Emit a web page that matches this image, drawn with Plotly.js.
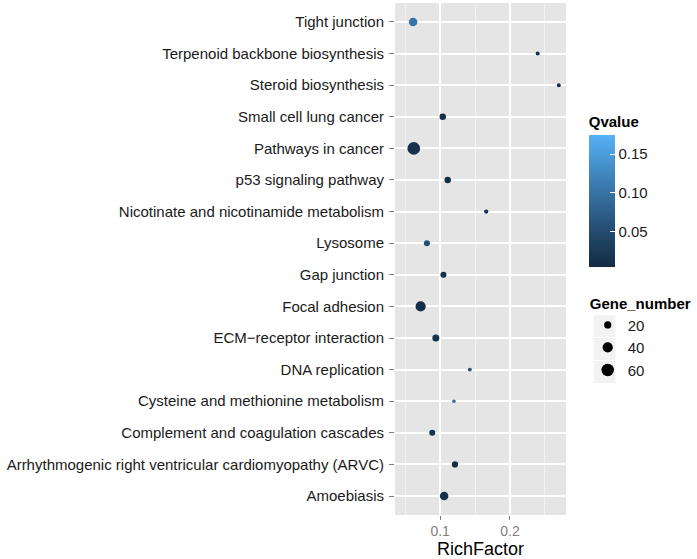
<!DOCTYPE html>
<html>
<head>
<meta charset="utf-8">
<script src="https://cdn.plot.ly/plotly-3.0.1.min.js"></script>
<style>
  html, body { margin: 0; padding: 0; background: #ffffff; }
  #chart { width: 697px; height: 559px; }
</style>
</head>
<body>
<div id="chart"></div>
<script>
// Pathways, listed bottom to top
const pathways = [
  "Amoebiasis",
  "Arrhythmogenic right ventricular cardiomyopathy (ARVC)",
  "Complement and coagulation cascades",
  "Cysteine and methionine metabolism",
  "DNA replication",
  "ECM\u2212receptor interaction",
  "Focal adhesion",
  "Gap junction",
  "Lysosome",
  "Nicotinate and nicotinamide metabolism",
  "p53 signaling pathway",
  "Pathways in cancer",
  "Small cell lung cancer",
  "Steroid biosynthesis",
  "Terpenoid backbone biosynthesis",
  "Tight junction"
];
const richFactor = [0.1057, 0.1212, 0.0887, 0.1198, 0.1425, 0.0938, 0.0720, 0.1047,
                    0.0810, 0.1660, 0.1108, 0.0622, 0.1037, 0.2700, 0.2397, 0.0612];
const qvalue     = [0.012, 0.010, 0.015, 0.095, 0.060, 0.014, 0.010, 0.012,
                    0.055, 0.020, 0.008, 0.012, 0.010, 0.008, 0.012, 0.100];
const geneNumber = [28, 15, 14, 5, 6, 19, 40, 14,
                    14, 7, 16, 62, 16, 6, 6, 28];
const sizeBreaks = [20, 40, 60];
const qTicks = [0.05, 0.10, 0.15];
const xTicks = [0.1, 0.2];
const xMinor = [0.05, 0.15, 0.25];

const SIZEREF = 0.384;   // diameter(px) = sqrt(gene / SIZEREF)
const FONT = "Liberation Sans, Arial, Helvetica, sans-serif";
const qScale = [
  [0.00, "#132B43"], [0.25, "#22496C"], [0.50, "#336A98"],
  [0.75, "#448DC6"], [1.00, "#56B1F7"]
];

const traces = [{
  type: "scatter", mode: "markers",
  x: richFactor, y: pathways,
  showlegend: false,
  marker: {
    size: geneNumber, sizemode: "area", sizeref: 2 * SIZEREF,
    opacity: 1,
    color: qvalue, colorscale: qScale, cmin: 0.004, cmax: 0.1745,
    showscale: true, line: { width: 0 },
    colorbar: {
      x: 1.133, xanchor: "left", xpad: 0,
      y: 0.484, yanchor: "bottom", ypad: 0,
      thickness: 26, len: 154, lenmode: "pixels",
      outlinewidth: 0,
      tickvals: qTicks, tickformat: ".2f",
      ticks: "inside", ticklen: 5, tickcolor: "#ffffff", tickwidth: 1,
      tickfont: { family: FONT, size: 15, color: "#1a1a1a" },
      title: { text: "<b>Qvalue</b>", side: "top",
               font: { family: FONT, size: 15, color: "#000000" } }
    }
  },
  hoverinfo: "x+y"
}];

sizeBreaks.forEach(g => {
  traces.push({
    type: "scatter", mode: "markers",
    x: [null], y: [null], name: String(g),
    showlegend: true,
    marker: { size: Math.sqrt(g / SIZEREF), sizemode: "diameter", color: "#000000", opacity: 1 }
  });
});

// light grey key backgrounds of the size legend
const keyShapes = [0, 1, 2].map(i => ({
  type: "rect", xref: "paper", yref: "paper", layer: "below",
  x0: 1.162, x1: 1.289,
  y0: (515 - (315 + 23 * i + 22)) / 512, y1: (515 - (315 + 23 * i)) / 512,
  fillcolor: "#F2F2F2", line: { width: 0 }
}));

const layout = {
  width: 697, height: 559,
  margin: { l: 395, r: 129, t: 3, b: 44 },
  paper_bgcolor: "#ffffff",
  plot_bgcolor: "#E5E5E5",
  font: { family: FONT, size: 15, color: "#1a1a1a" },
  xaxis: {
    range: [0.0353, 0.2803],
    tickvals: xTicks, ticktext: xTicks.map(v => v.toFixed(1)),
    showgrid: true, gridcolor: "#ffffff", gridwidth: 2,
    zeroline: false, showline: false,
    ticks: "outside", ticklen: 4, tickcolor: "#7f7f7f", tickwidth: 1,
    ticklabelstandoff: -1,
    tickfont: { family: FONT, size: 14, color: "#7f7f7f" },
    minor: { tickvals: xMinor, showgrid: true, gridcolor: "#F2F2F2", gridwidth: 1, ticks: "" },
    fixedrange: true
  },
  yaxis: {
    type: "category",
    categoryorder: "array", categoryarray: pathways,
    range: [-0.6, pathways.length - 0.4],
    showgrid: true, gridcolor: "#ffffff", gridwidth: 2,
    zeroline: false, showline: false,
    ticks: "outside", ticklen: 5, tickcolor: "#7f7f7f", tickwidth: 1,
    ticklabelstandoff: 2,
    tickfont: { family: FONT, size: 15, color: "#1a1a1a" },
    fixedrange: true
  },
  annotations: [{
    text: "RichFactor", xref: "paper", yref: "paper",
    x: 0.5, y: -0.0879, xanchor: "center", yanchor: "bottom",
    showarrow: false, borderpad: 0,
    font: { family: FONT, size: 18, color: "#000000" }
  }],
  shapes: keyShapes,
  showlegend: true,
  legend: {
    x: 1.127, xanchor: "left", y: 0.441, yanchor: "top",
    bgcolor: "rgba(0,0,0,0)", borderwidth: 0,
    font: { family: FONT, size: 15, color: "#1a1a1a" },
    title: { text: "<b>Gene_number</b>", font: { family: FONT, size: 15, color: "#000000" } },
    tracegroupgap: 0, itemsizing: "trace"
  }
};

Plotly.newPlot("chart", traces, layout, { displayModeBar: false, staticPlot: true });
</script>
</body>
</html>
